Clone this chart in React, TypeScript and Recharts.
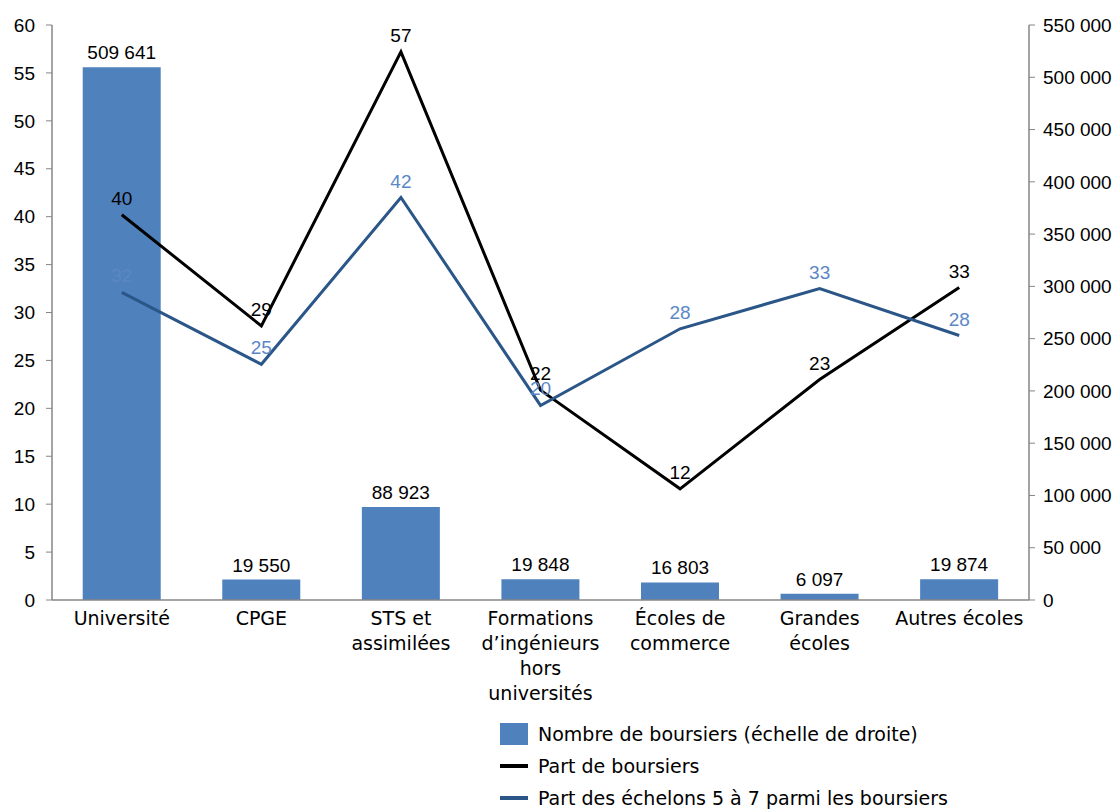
import React from 'react';
import { ComposedChart, Bar, Line, XAxis, YAxis, LabelList } from 'recharts';

const categories = [
  'Université',
  'CPGE',
  'STS et\nassimilées',
  'Formations\nd\u2019ingénieurs\nhors\nuniversités',
  'Écoles de\ncommerce',
  'Grandes\nécoles',
  'Autres écoles',
];
const nbBoursiers = [509641, 19550, 88923, 19848, 16803, 6097, 19874];
const partBoursiers = [40.2, 28.6, 57.2, 21.9, 11.6, 23.0, 32.6];
const partEchelons = [32.1, 24.6, 42.0, 20.3, 28.3, 32.5, 27.6];
const leftTicks = [0, 5, 10, 15, 20, 25, 30, 35, 40, 45, 50, 55, 60];
const rightTicks = [0, 50000, 100000, 150000, 200000, 250000, 300000, 350000, 400000, 450000, 500000, 550000];

const WORD_FONT = '"DejaVu Sans", "Liberation Sans", sans-serif';
const NUM_FONT = '"Liberation Sans", Arial, sans-serif';
const BAR_COLOR = '#4f81bd';
const BLUE_LINE = '#2b5688';
const BLUE_LABEL = '#5b87c6';
const AXIS = '#868686';

const data = categories.map((name, i) => ({
  name,
  nb: nbBoursiers[i],
  part: partBoursiers[i],
  echelons: partEchelons[i],
}));

const fmtThousands = (v: number) => String(Math.round(v)).replace(/\B(?=(\d{3})+(?!\d))/g, ' ');

const CategoryTick = (props: any) => {
  const { x, y, payload } = props;
  const lines = String(payload.value).split('\n');
  return (
    <text x={x} y={y + 17} textAnchor="middle" fontFamily={WORD_FONT} fontSize={19} fill="#000">
      {lines.map((l, i) => (
        <tspan key={i} x={x} dy={i === 0 ? 0 : 25}>
          {l}
        </tspan>
      ))}
    </text>
  );
};

const LegendBox = () => (
  <div
    style={{
      position: 'absolute',
      left: 500,
      top: 718,
      fontFamily: WORD_FONT,
      fontSize: 19,
      color: '#000',
      lineHeight: '32px',
    }}
  >
    <div style={{ display: 'flex', alignItems: 'center' }}>
      <span style={{ display: 'inline-block', width: 28, height: 22, background: BAR_COLOR, marginRight: 10 }} />
      Nombre de boursiers (échelle de droite)
    </div>
    <div style={{ display: 'flex', alignItems: 'center' }}>
      <span style={{ display: 'inline-block', width: 28, height: 4, background: '#000', marginRight: 10 }} />
      Part de boursiers
    </div>
    <div style={{ display: 'flex', alignItems: 'center' }}>
      <span style={{ display: 'inline-block', width: 28, height: 4, background: BLUE_LINE, marginRight: 10 }} />
      Part des échelons 5 à 7 parmi les boursiers
    </div>
  </div>
);

export default function App() {
  return (
    <div style={{ position: 'absolute', left: 0, top: 0, width: 1120, height: 809, background: '#fff' }}>
      <ComposedChart
        width={1120}
        height={809}
        data={data}
        margin={{ top: 25, right: 0, bottom: 0, left: 0 }}
        barCategoryGap="22%"
      >
        <XAxis
          dataKey="name"
          height={209}
          tick={<CategoryTick />}
          tickLine={false}
          axisLine={{ stroke: AXIS, strokeWidth: 1.5 }}
          interval={0}
        />
        <YAxis
          yAxisId="left"
          orientation="left"
          width={52}
          domain={[0, 60]}
          ticks={leftTicks}
          interval={0}
          tick={{ fontFamily: NUM_FONT, fontSize: 19, fill: '#000', dx: -9 }}
          tickLine={{ stroke: AXIS }}
          tickSize={6}
          axisLine={{ stroke: AXIS, strokeWidth: 1.5 }}
        />
        <YAxis
          yAxisId="right"
          orientation="right"
          width={91}
          domain={[0, 550000]}
          ticks={rightTicks}
          interval={0}
          tickFormatter={fmtThousands}
          tick={{ fontFamily: NUM_FONT, fontSize: 19, fill: '#000', textAnchor: 'start', dx: 6 }}
          tickLine={{ stroke: AXIS }}
          tickSize={6}
          axisLine={{ stroke: AXIS, strokeWidth: 1.5 }}
        />
        <Bar yAxisId="right" dataKey="nb" fill={BAR_COLOR} isAnimationActive={false}>
          <LabelList
            dataKey="nb"
            position="top"
            offset={8}
            formatter={(v: any) => fmtThousands(Number(v))}
            style={{ fontFamily: NUM_FONT, fontSize: 19, fill: '#000' }}
          />
        </Bar>
        <Line
          yAxisId="left"
          dataKey="part"
          stroke="#000"
          strokeWidth={3}
          dot={false}
          isAnimationActive={false}
        >
          <LabelList
            dataKey="part"
            position="top"
            offset={10}
            formatter={(v: any) => Math.round(Number(v))}
            style={{ fontFamily: NUM_FONT, fontSize: 19, fill: '#000' }}
          />
        </Line>
        <Line
          yAxisId="left"
          dataKey="echelons"
          stroke={BLUE_LINE}
          strokeWidth={3}
          dot={false}
          isAnimationActive={false}
        >
          <LabelList
            dataKey="echelons"
            position="top"
            offset={10}
            formatter={(v: any) => Math.round(Number(v))}
            style={{ fontFamily: NUM_FONT, fontSize: 19, fill: BLUE_LABEL }}
          />
        </Line>
      </ComposedChart>
      <LegendBox />
    </div>
  );
}
